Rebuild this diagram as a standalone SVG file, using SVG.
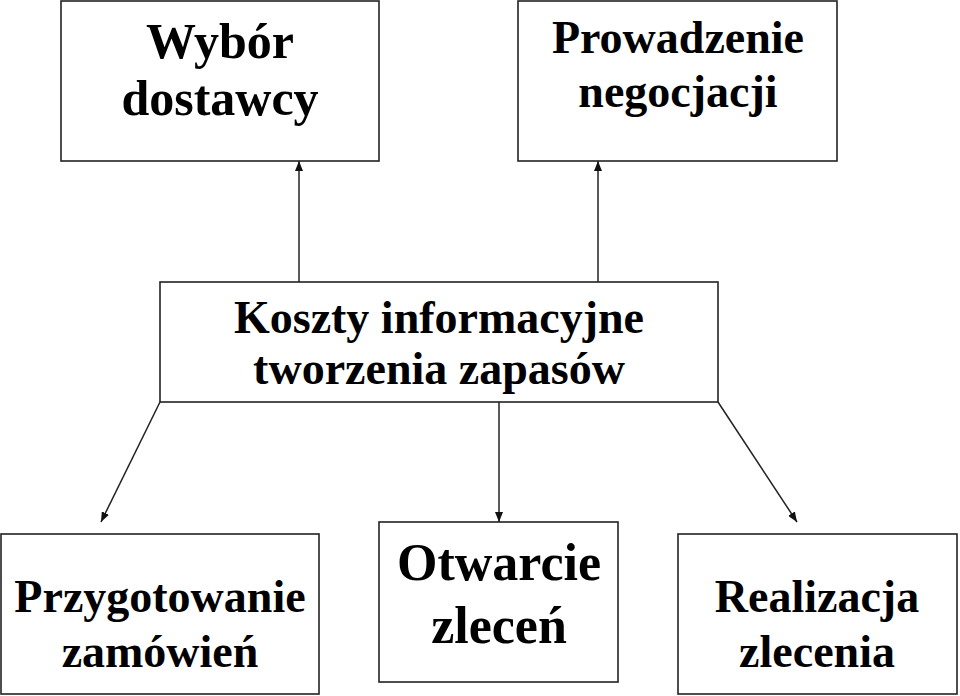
<svg xmlns="http://www.w3.org/2000/svg" width="960" height="696" viewBox="0 0 960 696">
<defs>
<style>
.box{fill:#fff;stroke:#222;stroke-width:1.6}
.t{font-family:"Liberation Serif","Times New Roman",serif;font-weight:bold;fill:#000;text-anchor:middle}
.c{stroke:#222;stroke-width:1.5;fill:none}
</style>
<marker id="ah" markerWidth="10" markerHeight="8" refX="10" refY="4" orient="auto" markerUnits="userSpaceOnUse">
<path d="M0,0 L10,4 L0,8 Z" fill="#111"/>
</marker>
</defs>
<rect width="960" height="696" fill="#fff"/>
<g id="n-wybor">
<rect class="box" x="61" y="1" width="318" height="160"/>
<text class="t" x="220" y="58" font-size="50">Wybór</text>
<text class="t" x="220" y="115" font-size="50">dostawcy</text>
</g>
<g id="n-negocjacje">
<rect class="box" x="518" y="1" width="319" height="160"/>
<text class="t" x="678" y="53" font-size="46">Prowadzenie</text>
<text class="t" x="678" y="107" font-size="46">negocjacji</text>
</g>
<g id="n-koszty">
<rect class="box" x="160" y="282" width="558" height="120"/>
<text class="t" x="439" y="333" font-size="46">Koszty informacyjne</text>
<text class="t" x="439" y="384" font-size="46">tworzenia zapasów</text>
</g>
<g id="n-przygotowanie">
<rect class="box" x="1" y="534" width="318" height="160"/>
<text class="t" x="160" y="612" font-size="46">Przygotowanie</text>
<text class="t" x="160" y="667" font-size="46">zamówień</text>
</g>
<g id="n-otwarcie">
<rect class="box" x="379" y="522" width="239" height="160"/>
<text class="t" x="499" y="580" font-size="52">Otwarcie</text>
<text class="t" x="499" y="643" font-size="52">zleceń</text>
</g>
<g id="n-realizacja">
<rect class="box" x="678" y="534" width="279" height="160"/>
<text class="t" x="817" y="612" font-size="46">Realizacja</text>
<text class="t" x="817" y="667" font-size="46">zlecenia</text>
</g>
<g id="connectors">
<line class="c" x1="299" y1="282" x2="299" y2="161" marker-end="url(#ah)"/>
<line class="c" x1="598" y1="282" x2="598" y2="161" marker-end="url(#ah)"/>
<line class="c" x1="160" y1="402" x2="101" y2="522" marker-end="url(#ah)"/>
<line class="c" x1="499" y1="402" x2="499" y2="522" marker-end="url(#ah)"/>
<line class="c" x1="718" y1="402" x2="797" y2="522" marker-end="url(#ah)"/>
</g>
</svg>
